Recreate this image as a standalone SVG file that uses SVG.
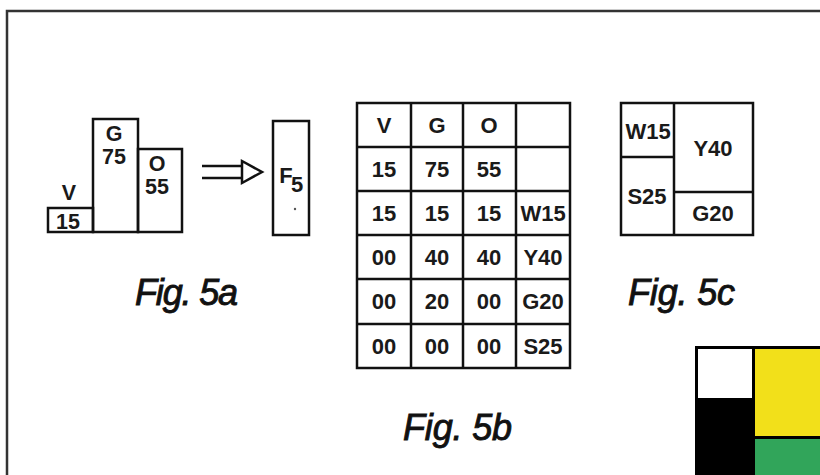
<svg xmlns="http://www.w3.org/2000/svg" width="820" height="475" viewBox="0 0 820 475">
<style>
.ln{fill:none;stroke:#111;stroke-width:2.5}
.t{font-family:"Liberation Sans",Arial,sans-serif;font-weight:bold;font-size:22px;fill:#1a1a1a;text-anchor:middle}
.a{font-size:21.5px}
.fig{font-family:"Liberation Sans",Arial,sans-serif;font-style:italic;font-size:36px;fill:#111;stroke:#111;stroke-width:0.9}
</style>
<rect width="820" height="475" fill="#fff"/>
<path d="M7,475 V11 H820" fill="none" stroke="#333" stroke-width="2.5"/>

<g id="fig5a">
  <rect class="ln" x="48" y="208" width="45" height="24"/>
  <rect class="ln" x="93" y="119" width="45" height="113"/>
  <rect class="ln" x="138" y="149" width="44" height="83"/>
  <text class="t a" x="69" y="200">V</text>
  <text class="t a" x="68" y="229">15</text>
  <text class="t a" x="114" y="141">G</text>
  <text class="t a" x="114" y="164">75</text>
  <text class="t a" x="157" y="171">O</text>
  <text class="t a" x="157" y="194">55</text>
</g>
<g id="connectors">
  <path d="M202,166 H244 M202,178 H244" fill="none" stroke="#111" stroke-width="2.5"/>
  <path d="M242,161 L262,172 L242,183 Z" fill="#fff" stroke="#111" stroke-width="2.5" stroke-linejoin="miter"/>
</g>
<g id="F5">
  <rect class="ln" x="273" y="121" width="36" height="114"/>
  <text class="t" x="286" y="183" font-size="27">F</text>
  <text class="t" x="297" y="192" font-size="23">5</text>
  <circle cx="295" cy="209" r="1.2" fill="#555"/>
</g>
<text id="cap5a" class="fig" x="135" y="305" textLength="103">Fig. 5a</text>

<g id="fig5b">
  <rect class="ln" x="357" y="103" width="213" height="265"/>
  <path class="ln" d="M411,103 V368 M463,103 V368 M516,103 V368 M357,147 H570 M357,191 H570 M357,235 H570 M357,279 H570 M357,324 H570"/>
  <g class="t">
    <text x="384" y="133">V</text><text x="437" y="133">G</text><text x="489" y="133">O</text>
    <text x="384" y="177">15</text><text x="437" y="177">75</text><text x="489" y="177">55</text>
    <text x="384" y="221">15</text><text x="437" y="221">15</text><text x="489" y="221">15</text><text x="543" y="221">W15</text>
    <text x="384" y="265">00</text><text x="437" y="265">40</text><text x="489" y="265">40</text><text x="543" y="265">Y40</text>
    <text x="384" y="309">00</text><text x="437" y="309">20</text><text x="489" y="309">00</text><text x="543" y="309">G20</text>
    <text x="384" y="354">00</text><text x="437" y="354">00</text><text x="489" y="354">00</text><text x="543" y="354">S25</text>
  </g>
</g>
<text id="cap5b" class="fig" x="403" y="440" textLength="109">Fig. 5b</text>

<g id="fig5c">
  <rect class="ln" x="621" y="103" width="132" height="132"/>
  <path class="ln" d="M674,103 V235 M621,157 H674 M674,192 H753"/>
  <g class="t">
    <text x="648" y="139">W15</text>
    <text x="647" y="204">S25</text>
    <text x="713" y="156">Y40</text>
    <text x="713" y="221">G20</text>
  </g>
</g>
<text id="cap5c" class="fig" x="628" y="305" textLength="107">Fig. 5c</text>

<g id="colorblock">
  <rect x="695" y="346" width="130" height="135" fill="#000"/>
  <rect x="698" y="349" width="54" height="49" fill="#fff"/>
  <rect x="755" y="349" width="70" height="87" fill="#f2e01a"/>
  <rect x="755" y="439" width="70" height="40" fill="#31a55a"/>
</g>
</svg>
